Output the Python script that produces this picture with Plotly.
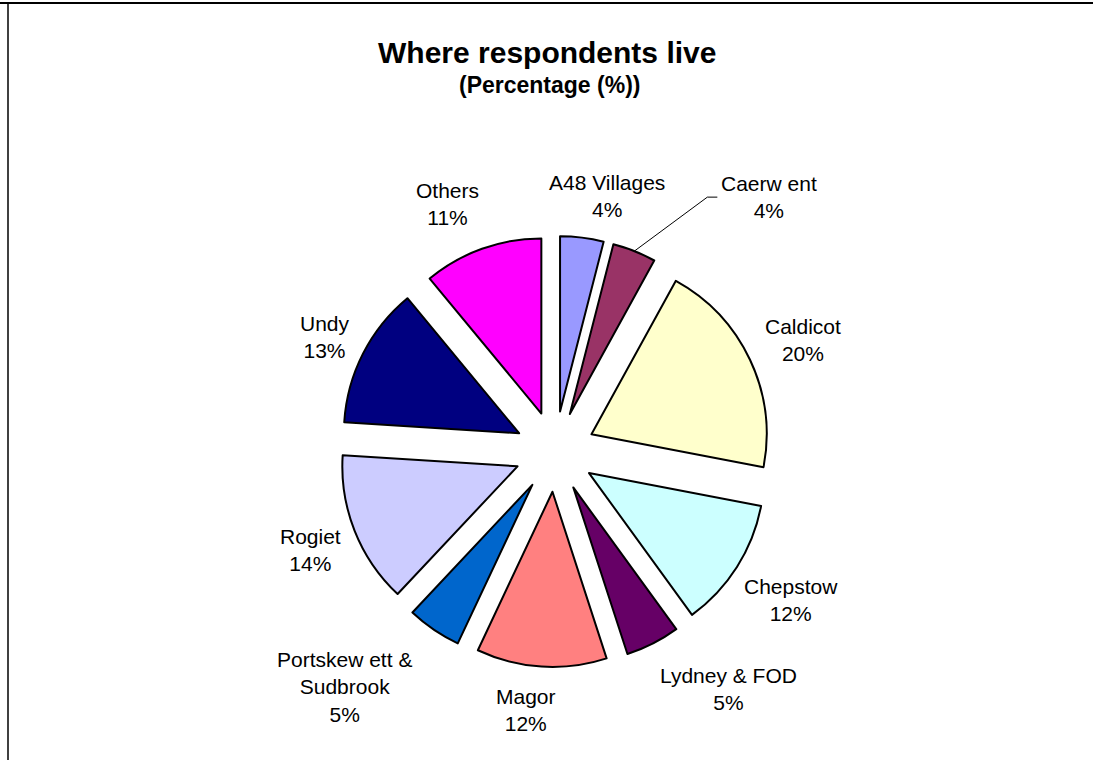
import math
import plotly.graph_objects as go

# Survey breakdown: where respondents live (percent of total)
areas = ["A48 Villages", "Caerw ent", "Caldicot", "Chepstow", "Lydney & FOD",
         "Magor", "Portskew ett &<br>Sudbrook", "Rogiet", "Undy", "Others"]
shares = [4, 4, 20, 12, 5, 12, 5, 14, 13, 11]
colours = ["#9999FF", "#993366", "#FFFFCC", "#CCFFFF", "#660066",
           "#FF8080", "#0066CC", "#CCCCFF", "#000080", "#FF00FF"]

FONT = "Arial, Liberation Sans, sans-serif"
W, H = 1093, 760
cx, cy = 555, 451.5        # pie centre in pixels
half = 215.5               # radius incl. explode offset
explode = 0.23
radius = half / (1 + explode)
label_gap = 232            # distance from centre where labels start
label_size = 21
line_h = 1.3 * label_size

# extra pixel shifts for the best-fit label placement
label_nudge = {"A48 Villages": (15, 2), "Caldicot": (0, -1), "Chepstow": (5, 10),
               "Lydney & FOD": (40, 6), "Magor": (-13, 0),
               "Portskew ett &<br>Sudbrook": (-39, 10), "Rogiet": (0, 3),
               "Undy": (-5, 3), "Others": (-18, -4)}
# label moved aside with a leader line
callout = {"Caerw ent": (83, -54)}


def px(x, y):
    return x / W, 1 - y / H


fig = go.Figure(go.Pie(
    labels=areas,
    values=shares,
    sort=False,
    direction="clockwise",
    rotation=0,
    pull=[explode] * len(shares),
    marker=dict(colors=colours, line=dict(color="black", width=2)),
    textinfo="none",
    hoverinfo="label+percent",
    showlegend=False,
    domain=dict(x=[(cx - half) / W, (cx + half) / W],
                y=[1 - (cy + half) / H, 1 - (cy - half) / H]),
))

annotations = []
shapes = []
total = sum(shares)
cum = 0
for name, v in zip(areas, shares):
    mid = 2 * math.pi * (cum + v / 2) / total
    cum += v
    ux, uy = math.sin(mid), -math.cos(mid)
    pct = f"{round(100 * v / total)}%"
    text = f"{name}<br>{pct}"
    lines = text.split("<br>")
    w = max(len(s) for s in lines) * 0.5 * label_size
    h = len(lines) * line_h
    if name in callout:
        # leader line from the slice rim to the label's left side
        ex = cx + half * ux
        ey = cy + half * uy
        dx, dy = callout[name]
        lx, ly = ex + dx, ey + dy
        shapes.append(dict(type="path", xref="paper", yref="paper",
                           path=f"M {ex / W} {1 - ey / H} L {(lx - 10) / W} {1 - ly / H} "
                                f"L {lx / W} {1 - ly / H}",
                           line=dict(color="black", width=1)))
        ax, ay = px(lx + 2, ly)
        annotations.append(dict(text=text, x=ax, y=ay, xref="paper", yref="paper",
                                xanchor="left", yanchor="middle", showarrow=False,
                                font=dict(family=FONT, size=label_size, color="black")))
        continue
    bx = cx + label_gap * ux + ux * w / 2
    by = cy + label_gap * uy + uy * h / 2
    nx, ny = label_nudge.get(name, (0, 0))
    ax, ay = px(bx + nx, by + ny)
    annotations.append(dict(text=text, x=ax, y=ay, xref="paper", yref="paper",
                            xanchor="center", yanchor="middle", showarrow=False,
                            font=dict(family=FONT, size=label_size, color="black")))

tx, ty = px(547, 53)
sx, sy = px(549, 85)
annotations += [
    dict(text="<b>Where respondents live</b>", x=tx, y=ty, xref="paper", yref="paper",
         xanchor="center", yanchor="middle", showarrow=False,
         font=dict(family=FONT, size=30, color="black")),
    dict(text="<b>(Percentage (%))</b>", x=sx, y=sy, xref="paper", yref="paper",
         xanchor="center", yanchor="middle", showarrow=False,
         font=dict(family=FONT, size=23, color="black")),
]

# chart frame: top and left edges
shapes += [
    dict(type="line", xref="paper", yref="paper", x0=0, x1=1, y0=1 - 3 / H, y1=1 - 3 / H,
         line=dict(color="black", width=2)),
    dict(type="line", xref="paper", yref="paper", x0=8 / W, x1=8 / W, y0=0, y1=1 - 3 / H,
         line=dict(color="black", width=1.5)),
]

fig.update_layout(
    width=W, height=H, autosize=False,
    margin=dict(l=0, r=0, t=0, b=0),
    paper_bgcolor="white",
    plot_bgcolor="white",
    annotations=annotations,
    shapes=shapes,
)

fig.write_html("out.html", config={"responsive": False})
